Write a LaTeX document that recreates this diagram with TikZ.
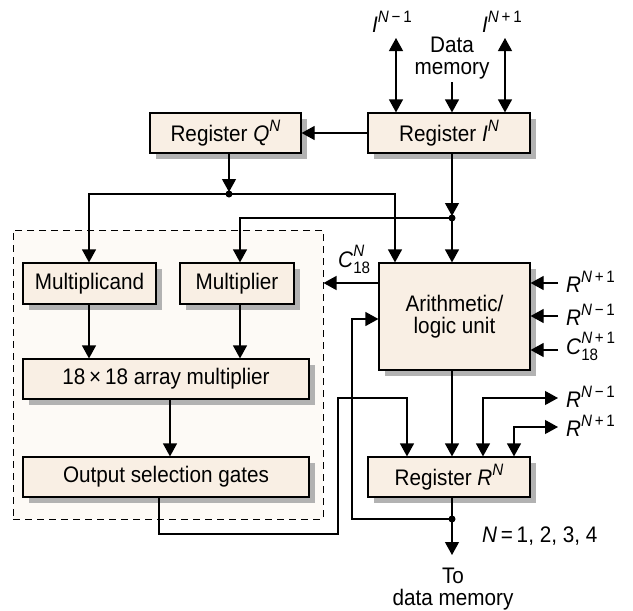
\documentclass[tikz,border=0pt]{standalone}
\usepackage{fontspec}
\setmainfont{Liberation Sans}[FakeStretch=0.92]
\usetikzlibrary{arrows.meta,shadows}
\definecolor{boxfill}{RGB}{249,239,228}
\definecolor{dashfill}{RGB}{253,250,246}
\definecolor{shadowgray}{RGB}{178,178,178}
\newcommand{\sps}[1]{\raisebox{0.42em}{\fontsize{16.5}{16.5}\selectfont #1}}
\newcommand{\supsub}[2]{\setbox0=\hbox{\fontsize{16.5}{16.5}\selectfont #1}\setbox2=\hbox{\fontsize{16.5}{16.5}\selectfont #2}\ifdim\wd0>\wd2\relax\dimen0=\wd0\else\dimen0=\wd2\fi\hbox to\dimen0{\rlap{\raise 0.45em\box0}\lower0.3em\box2\hfil}}
\newcommand{\mns}{\,−\,}
\newcommand{\pls}{\,+\,}
\tikzset{
  blk/.style={draw=black, line width=1.2pt, fill=boxfill, inner sep=0pt,
    font=\fontsize{22.5}{22}\selectfont, align=center,
    drop shadow={shadow xshift=6pt, shadow yshift=-6pt, fill=shadowgray, opacity=1}},
  wire/.style={line width=1.2pt},
  arr/.style={wire, -{Triangle[width=14pt,length=13pt]}},
  darr/.style={wire, {Triangle[width=14pt,length=13pt]}-{Triangle[width=14pt,length=13pt]}},
  lbl/.style={inner sep=0pt, font=\fontsize{22.5}{22}\selectfont},
  jdot/.style={circle, fill=black, inner sep=0pt, minimum size=7pt}
}
\begin{document}
\begin{tikzpicture}[x=1pt,y=-1pt]
\useasboundingbox (0,0) rectangle (633,611);
% dashed enclosure
\node[draw=black, dashed, dash pattern=on 7pt off 5pt, line width=1pt, fill=dashfill,
  minimum width=310pt, minimum height=289pt, inner sep=0pt] (dash) at (168,374.5) {};
% blocks
\node[blk, minimum width=151pt, minimum height=40pt] (Q) at (225.5,133) {Register \textit{Q}\sps{\textit{N}}};
\node[blk, minimum width=162pt, minimum height=40pt] (I) at (449,133) {Register \textit{I}\sps{\textit{N}}};
\node[blk, minimum width=133pt, minimum height=41pt] (Mc) at (89.5,283.5) {Multiplicand};
\node[blk, minimum width=114pt, minimum height=41pt] (Mp) at (237,283.5) {Multiplier};
\node[blk, minimum width=286pt, minimum height=40pt] (Arr) at (166,379) {18\,×\,18 array multiplier};
\node[blk, minimum width=286pt, minimum height=40pt] (Out) at (166,477) {Output selection gates};
\node[blk, minimum width=151pt, minimum height=107pt] (ALU) at (454.5,316.5) {Arithmetic/\\logic unit};
\node[blk, minimum width=162pt, minimum height=40pt] (R) at (449,477) {Register \textit{R}\sps{\textit{N}}};
% coordinates
\coordinate (cA) at (396,38);
\coordinate (cB) at (452,82);
\coordinate (cC) at (505,38);
\coordinate (j1) at (229,194);
\coordinate (j2) at (452,218);
\coordinate (j3) at (452,519);
\coordinate (xMc) at (89,0);
\coordinate (xMp) at (240,0);
\coordinate (xAL) at (395,0);
\coordinate (yC18) at (0,283);
\coordinate (rin1) at (558,283);
\coordinate (rin2) at (558,316);
\coordinate (rin3) at (558,350);
\coordinate (ro1) at (558,398);
\coordinate (ro2) at (558,427);
\coordinate (xo1) at (483,0);
\coordinate (xo2) at (514,0);
\coordinate (p1) at (159,534);
\coordinate (p2) at (338,534);
\coordinate (p3) at (338,398);
\coordinate (xRa) at (407,0);
\coordinate (q1) at (352,519);
\coordinate (q2) at (352,319);
\coordinate (down) at (452,555);
% top connections
\draw[darr] (cA) -- (cA |- I.north);
\draw[darr] (cC) -- (cC |- I.north);
\draw[arr] (cB) -- (cB |- I.north);
\draw[arr] (I.west |- Q.east) -- (Q.east);
\draw[arr, shorten >=2pt] (Q.south -| j1) -- (j1);
\draw[arr] (j1) -| (xMc |- Mc.north);
\draw[arr] (j1) -| (xAL |- ALU.north);
\draw[arr, shorten >=2pt] (I.south -| j2) -- (j2);
\draw[arr] (j2) -- (j2 |- ALU.north);
\draw[arr] (j2) -| (xMp |- Mp.north);
% multiplier internals
\draw[arr] (xMc |- Mc.south) -- (xMc |- Arr.north);
\draw[arr] (xMp |- Mp.south) -- (xMp |- Arr.north);
\draw[arr] (Arr.south -| 170,0) -- (Out.north -| 170,0);
% ALU
\draw[arr] (ALU.west |- yC18) -- (dash.east |- yC18);
\draw[arr] (rin1) -- (rin1 -| ALU.east);
\draw[arr] (rin2) -- (rin2 -| ALU.east);
\draw[arr] (rin3) -- (rin3 -| ALU.east);
\draw[arr] (ALU.south -| j2) -- (R.north -| j2);
% register R inputs/outputs
\draw[arr] (Out.south -| p1) -- (p1) -- (p2) -- (p3) -| (xRa |- R.north);
\draw[darr] (xo1 |- R.north) |- (ro1);
\draw[darr] (xo2 |- R.north) |- (ro2);
\draw[wire] (R.south -| j3) -- (j3);
\draw[arr] (j3) -- (down);
\draw[arr] (j3) -- (q1) -- (q2) -- (q2 -| ALU.west);
% dots
\node[jdot] at (j1) {};
\node[jdot] at (j2) {};
\node[jdot] at (j3) {};
% labels
\node[lbl, anchor=base west] (lI1) at (372,32) {\textit{I}\sps{\textit{N}\mns1}};
\node[lbl, anchor=base west] (lI2) at (482,32) {\textit{I}\sps{\textit{N}\pls1}};
\node[lbl, align=center] (ldm) at (452,58) {Data\\memory};
\node[lbl, anchor=base west] (lc18) at (338,267) {\textit{C}\supsub{\textit{N}}{18}};
\node[lbl, anchor=base west] (lr1) at (566,292) {\textit{R}\sps{\textit{N}\pls1}};
\node[lbl, anchor=base west] (lr2) at (566,325) {\textit{R}\sps{\textit{N}\mns1}};
\node[lbl, anchor=base west] (lr3) at (566,354) {\textit{C}\supsub{\textit{N}\pls1}{18}};
\node[lbl, anchor=base west] (lo1) at (566,407) {\textit{R}\sps{\textit{N}\mns1}};
\node[lbl, anchor=base west] (lo2) at (566,436) {\textit{R}\sps{\textit{N}\pls1}};
\node[lbl, anchor=base west] (lN) at (482,542) {\textit{N}\,=\,1, 2, 3, 4};
\node[lbl, align=center] (lto) at (453,589) {To\\data memory};
\end{tikzpicture}
\end{document}
